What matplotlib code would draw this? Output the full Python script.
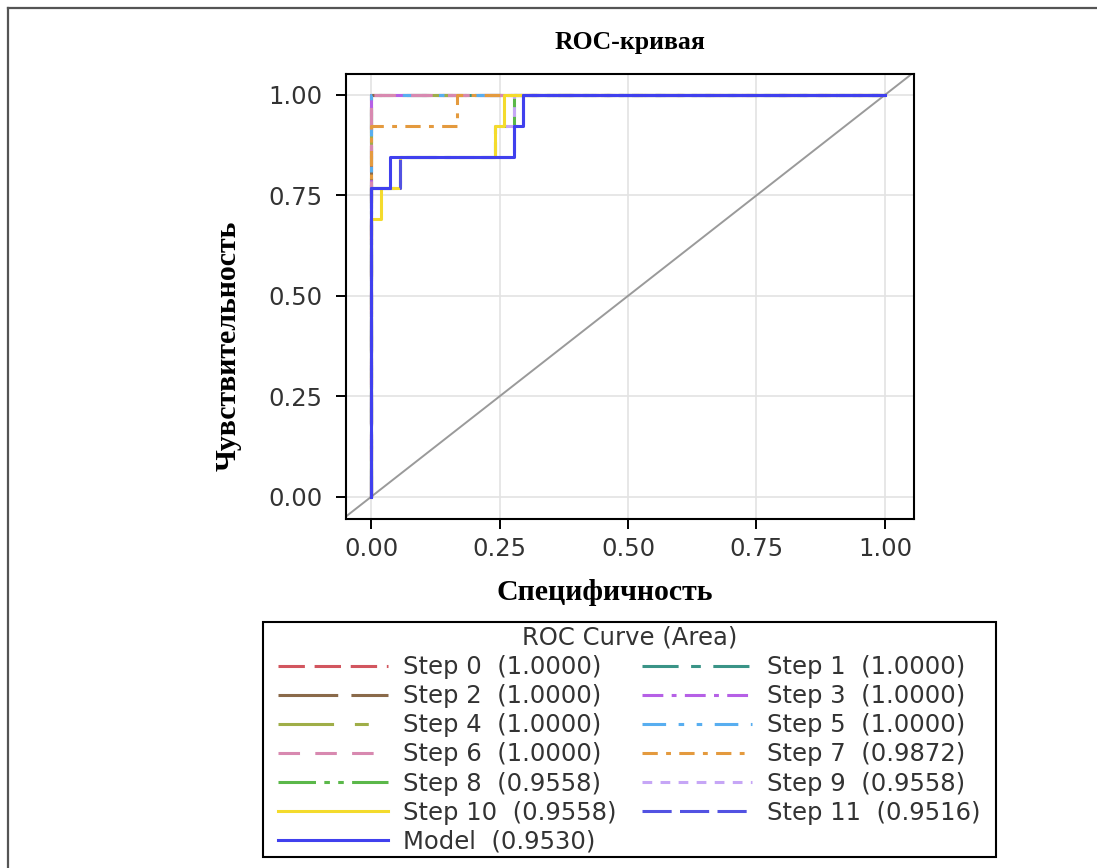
import matplotlib
matplotlib.use("Agg")
import matplotlib.pyplot as plt
from matplotlib.lines import Line2D
from matplotlib.patches import Rectangle

plt.rcParams['lines.scale_dashes'] = False

# ---------------- data ----------------
series_names = ["Step 0", "Step 1", "Step 2", "Step 3", "Step 4", "Step 5", "Step 6",
                "Step 7", "Step 8", "Step 9", "Step 10", "Step 11", "Model"]
areas = ["1.0000", "1.0000", "1.0000", "1.0000", "1.0000", "1.0000", "1.0000",
         "0.9872", "0.9558", "0.9558", "0.9558", "0.9516", "0.9530"]

fpr_perfect = [0.0, 0.0, 1.0]
tpr_perfect = [0.0, 1.0, 1.0]

fpr_step7 = [0.0, 0.0, 0.167, 0.167, 1.0]
tpr_step7 = [0.0, 0.923, 0.923, 1.0, 1.0]

fpr_step8 = [0.0, 0.0, 0.056, 0.056, 0.241, 0.241, 0.278, 0.278, 1.0]
tpr_step8 = [0.0, 0.769, 0.769, 0.846, 0.846, 0.923, 0.923, 1.0, 1.0]

fpr_step9 = [0.0, 0.0, 0.056, 0.056, 0.241, 0.241, 0.278, 0.278, 1.0]
tpr_step9 = [0.0, 0.769, 0.769, 0.846, 0.846, 0.923, 0.923, 1.0, 1.0]

fpr_step10 = [0.0, 0.0, 0.0185, 0.0185, 0.056, 0.056, 0.241, 0.241, 0.259, 0.259, 1.0]
tpr_step10 = [0.0, 0.692, 0.692, 0.769, 0.769, 0.846, 0.846, 0.923, 0.923, 1.0, 1.0]

fpr_step11 = [0.0, 0.0, 0.056, 0.056, 0.278, 0.278, 0.296, 0.296, 1.0]
tpr_step11 = [0.0, 0.769, 0.769, 0.846, 0.846, 0.923, 0.923, 1.0, 1.0]

fpr_model = [0.0, 0.0, 0.037, 0.037, 0.278, 0.278, 0.296, 0.296, 1.0]
tpr_model = [0.0, 0.769, 0.769, 0.846, 0.846, 0.923, 0.923, 1.0, 1.0]

curves_fpr = [fpr_perfect] * 7 + [fpr_step7, fpr_step8, fpr_step9, fpr_step10, fpr_step11, fpr_model]
curves_tpr = [tpr_perfect] * 7 + [tpr_step7, tpr_step8, tpr_step9, tpr_step10, tpr_step11, tpr_model]

tick_values = [0.0, 0.25, 0.5, 0.75, 1.0]
tick_labels = ["0.00", "0.25", "0.50", "0.75", "1.00"]

# ---------------- styles ----------------
colors = ["#d2565f", "#3a9487", "#8a6a4a", "#b660e6", "#9fae48", "#58aef0", "#d889b0",
          "#e49a3e", "#5bb84a", "#c6a6f6", "#f4db2c", "#5252e2", "#4040ee"]
styles = [(0, (19, 7)),
          (0, (26, 9, 7, 9)),
          (0, (43, 9.5)),
          (0, (15, 6, 3.5, 6)),
          (0, (40, 15, 10, 15)),
          (0, (17, 9, 4, 9, 4, 9)),
          (0, (15.5, 11)),
          (0, (11, 6, 3.5, 6)),
          (0, (27, 6, 4, 6, 4, 6)),
          (0, (7, 6)),
          "-",
          (0, (21, 6)),
          "-"]

TEXT = "#333333"
FS = 17.5
W, H = 1097, 868

fig = plt.figure(figsize=(10.97, 8.68), dpi=100)
ax = fig.add_axes([346 / W, 1 - 519 / H, (914 - 346) / W, (519 - 74) / H])

ax.set_xlim(-0.0487, 1.0565)
ax.set_ylim(-0.055, 1.052)

ax.set_xticks(tick_values)
ax.set_xticklabels(tick_labels)
ax.set_yticks(tick_values)
ax.set_yticklabels(tick_labels)
ax.grid(True, color="#e3e3e3", linewidth=1.2)
ax.set_axisbelow(True)

ax.tick_params(axis="both", direction="out", length=7, width=1.4, colors="black",
               labelcolor=TEXT, labelsize=FS)
ax.tick_params(axis="x", pad=6)
ax.tick_params(axis="y", pad=10)
for s in ax.spines.values():
    s.set_linewidth(1.5)
    s.set_color("black")

ax.axline((0, 0), (1, 1), color="#9a9a9a", linewidth=1.4, zorder=1)

handles = []
for i, name in enumerate(series_names):
    ln, = ax.plot(curves_fpr[i], curves_tpr[i], color=colors[i], linestyle=styles[i],
                  linewidth=2.2, zorder=2 + i, label=f"{name}  ({areas[i]})")
    handles.append(ln)

# text
fig.text(630 / W, 1 - 43 / H, "ROC-кривая", ha="center", va="center",
         family="Liberation Serif", fontweight="bold", fontsize=18.5)
fig.text(605 / W, 1 - 592 / H, "Специфичность", ha="center", va="center",
         family="Liberation Serif", fontweight="bold", fontsize=21.5)
fig.text(228 / W, 1 - 346 / H, "Чувствительность", ha="center", va="center",
         rotation=90, family="Liberation Serif", fontweight="bold", fontsize=21.5)

# legend (column-major order to reproduce row layout)
order = [0, 2, 4, 6, 8, 10, 12, 1, 3, 5, 7, 9, 11]
leg = fig.legend([handles[i] for i in order], [handles[i].get_label() for i in order],
                 ncol=2, loc="upper left", bbox_to_anchor=(278 / W, 1 - 626 / H),
                 title="ROC Curve (Area)", title_fontsize=FS, fontsize=FS,
                 handlelength=4.53, handletextpad=0.62, columnspacing=1.03,
                 labelspacing=0.21, borderpad=0.0, borderaxespad=0.0, frameon=False)
for t in leg.get_texts():
    t.set_color(TEXT)
leg.get_title().set_color(TEXT)

# legend frame
fig.add_artist(Rectangle((263 / W, 1 - 857 / H), (996 - 263) / W, (857 - 622) / H,
                         transform=fig.transFigure, fill=False, edgecolor="black",
                         linewidth=1.5))

# outer page border (top and left)
fig.add_artist(Line2D([8 / W, 1.0], [1 - 8 / H, 1 - 8 / H], color="#555555",
                      linewidth=1.6, transform=fig.transFigure))
fig.add_artist(Line2D([8 / W, 8 / W], [0.0, 1 - 8 / H], color="#555555",
                      linewidth=1.6, transform=fig.transFigure))

fig.savefig("out.png", dpi=100)
